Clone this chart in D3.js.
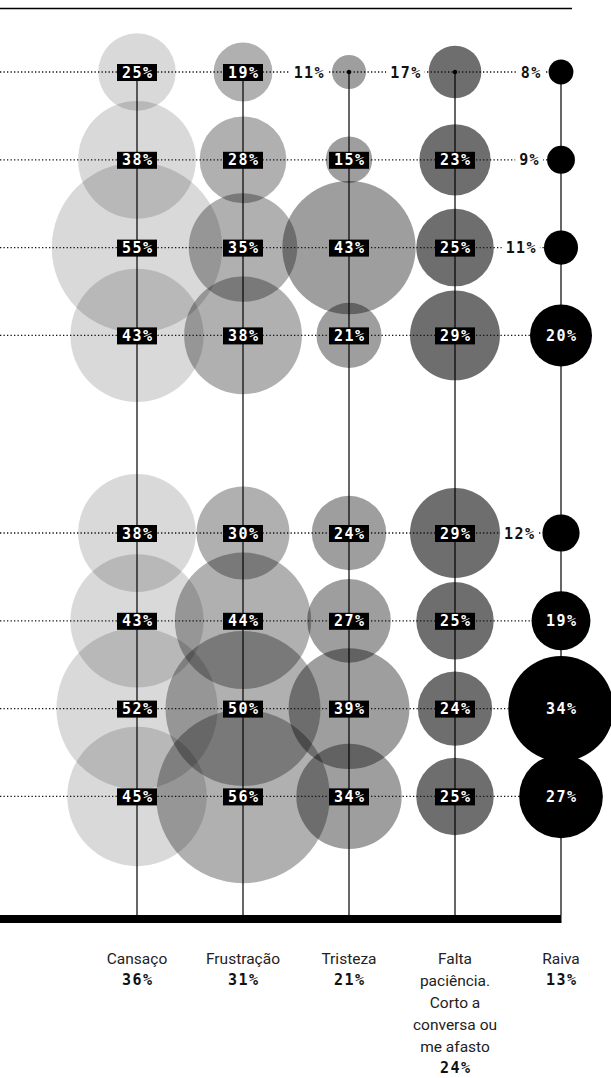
<!DOCTYPE html>
<html>
<head>
<meta charset="utf-8">
<script src="https://cdn.jsdelivr.net/npm/d3@7"></script>
<style>
  body { margin: 0; background: #fff; }
  svg { display: block; }
  .pct { font-family: "DejaVu Sans Mono", monospace; font-weight: bold; font-size: 15px; letter-spacing: 1.4px; }
  .cat { font-family: Roboto, "Noto Sans", sans-serif; font-size: 15.5px; fill: #222; }
</style>
</head>
<body>
<script>
// categories (columns) and their totals
const categories = ["Cansaço", "Frustração", "Tristeza", "Falta paciência", "Raiva"];
const categoryLines = [
  ["Cansaço"],
  ["Frustração"],
  ["Tristeza"],
  ["Falta", "paciência.", "Corto a", "conversa ou", "me afasto"],
  ["Raiva"]
];
const totals = [36, 31, 21, 24, 13];

// rows, two groups of four (row labels sit outside the crop)
const groups = ["g1", "g2"];
const rows = ["r1", "r2", "r3", "r4", "r5", "r6", "r7", "r8"];

// percent values, one array per row, in column order
const values = [
  [25, 19, 11, 17, 8],
  [38, 28, 15, 23, 9],
  [55, 35, 43, 25, 11],
  [43, 38, 21, 29, 20],
  [38, 30, 24, 29, 12],
  [43, 44, 27, 25, 19],
  [52, 50, 39, 24, 34],
  [45, 56, 34, 25, 27]
];

// labels written beside the circle instead of inside  [row, col]
const outsideLabels = [[0, 2], [0, 3], [0, 4], [1, 4], [2, 4], [4, 4]];

const width = 611;
const height = 1078;
const shades = [0.15, 0.31, 0.38, 0.57, 1];

const svg = d3.select('body')
  .append('svg')
  .attr('width', width)
  .attr('height', height);

const x = d3.scalePoint().domain(categories).range([137, 561]);
const groupY = d3.scalePoint().domain(groups).range([72, 533]);
const rowStep = 87.8;
const r = d3.scaleLinear().domain([0, 100]).range([0, 155]);

function rowY(i) {
  return groupY(groups[Math.floor(i / 4)]) + (i % 4) * rowStep;
}

// flatten into cells
let cells = [];
values.forEach((row, i) => {
  row.forEach((v, j) => {
    cells.push({
      row: i, col: j, value: v,
      cx: x(categories[j]), cy: rowY(i),
      outside: outsideLabels.some((o) => o[0] === i && o[1] === j)
    });
  });
});

const axisY = 915;
const raivaX = x(categories[4]);

// top rule
svg.append('line')
  .attr('x1', 0).attr('x2', 572)
  .attr('y1', 8.5).attr('y2', 8.5)
  .attr('stroke', '#000')
  .attr('stroke-width', 1.6);

// circles
svg.append('g').selectAll('circle')
  .data(cells)
  .join('circle')
  .attr('cx', (d) => d.cx)
  .attr('cy', (d) => d.cy)
  .attr('r', (d) => r(d.value))
  .attr('fill', '#000')
  .attr('fill-opacity', (d) => shades[d.col]);

// dotted row lines, drawn over the circles
svg.append('g').selectAll('line')
  .data(rows)
  .join('line')
  .attr('x1', 0)
  .attr('x2', (d, i) => raivaX - r(values[i][4]))
  .attr('y1', (d, i) => rowY(i))
  .attr('y2', (d, i) => rowY(i))
  .attr('stroke', '#111')
  .attr('stroke-width', 1.3)
  .attr('stroke-dasharray', '1.3,2.2');

// column stems
svg.append('g').selectAll('line')
  .data(categories)
  .join('line')
  .attr('x1', (d) => x(d))
  .attr('x2', (d) => x(d))
  .attr('y1', rowY(0))
  .attr('y2', axisY)
  .attr('stroke', '#000')
  .attr('stroke-width', 1.2);

// base axis
svg.append('rect')
  .attr('x', 0)
  .attr('y', axisY)
  .attr('width', raivaX + 0.5)
  .attr('height', 8)
  .attr('fill', '#000');

// centre dots for circles labelled outside
svg.append('g').selectAll('circle')
  .data(cells.filter((d) => d.outside))
  .join('circle')
  .attr('cx', (d) => d.cx)
  .attr('cy', (d) => d.cy)
  .attr('r', 2.2)
  .attr('fill', '#000');

// inside labels: white on black box
const inner = svg.append('g').selectAll('g')
  .data(cells.filter((d) => !d.outside))
  .join('g')
  .attr('transform', (d) => `translate(${d.cx},${d.cy})`);

inner.append('rect')
  .attr('x', -20).attr('y', -8)
  .attr('width', 40).attr('height', 17)
  .attr('fill', '#000');

inner.append('text')
  .attr('class', 'pct')
  .attr('text-anchor', 'middle')
  .attr('x', 0.7)
  .attr('y', 5.5)
  .attr('fill', '#fff')
  .text((d) => d.value + '%');

// outside labels: black on white, left of the circle
const outer = svg.append('g').selectAll('g')
  .data(cells.filter((d) => d.outside))
  .join('g')
  .attr('transform', (d) => `translate(${d.cx - r(d.value) - 7},${d.cy})`);

outer.append('rect')
  .attr('x', (d) => -(String(d.value).length + 1) * 10.4 - 4)
  .attr('y', -8)
  .attr('width', (d) => (String(d.value).length + 1) * 10.4 + 7)
  .attr('height', 17)
  .attr('fill', '#fff');

outer.append('text')
  .attr('class', 'pct')
  .attr('text-anchor', 'end')
  .attr('y', 5.5)
  .attr('fill', '#111')
  .text((d) => d.value + '%');

// category labels under the axis
const catG = svg.append('g').selectAll('g')
  .data(categories)
  .join('g')
  .attr('transform', (d) => `translate(${x(d)},0)`);

const lineH = 22;
catG.each(function(d, i) {
  const g = d3.select(this);
  const lines = categoryLines[i];
  lines.forEach((t, k) => {
    g.append('text')
      .attr('class', 'cat')
      .attr('text-anchor', 'middle')
      .attr('y', 964 + k * lineH)
      .text(t);
  });
  g.append('text')
    .attr('class', 'pct')
    .attr('text-anchor', 'middle')
    .attr('x', 0.7)
    .attr('y', 985 + (lines.length - 1) * lineH)
    .attr('fill', '#111')
    .text(totals[i] + '%');
});
</script>
</body>
</html>
